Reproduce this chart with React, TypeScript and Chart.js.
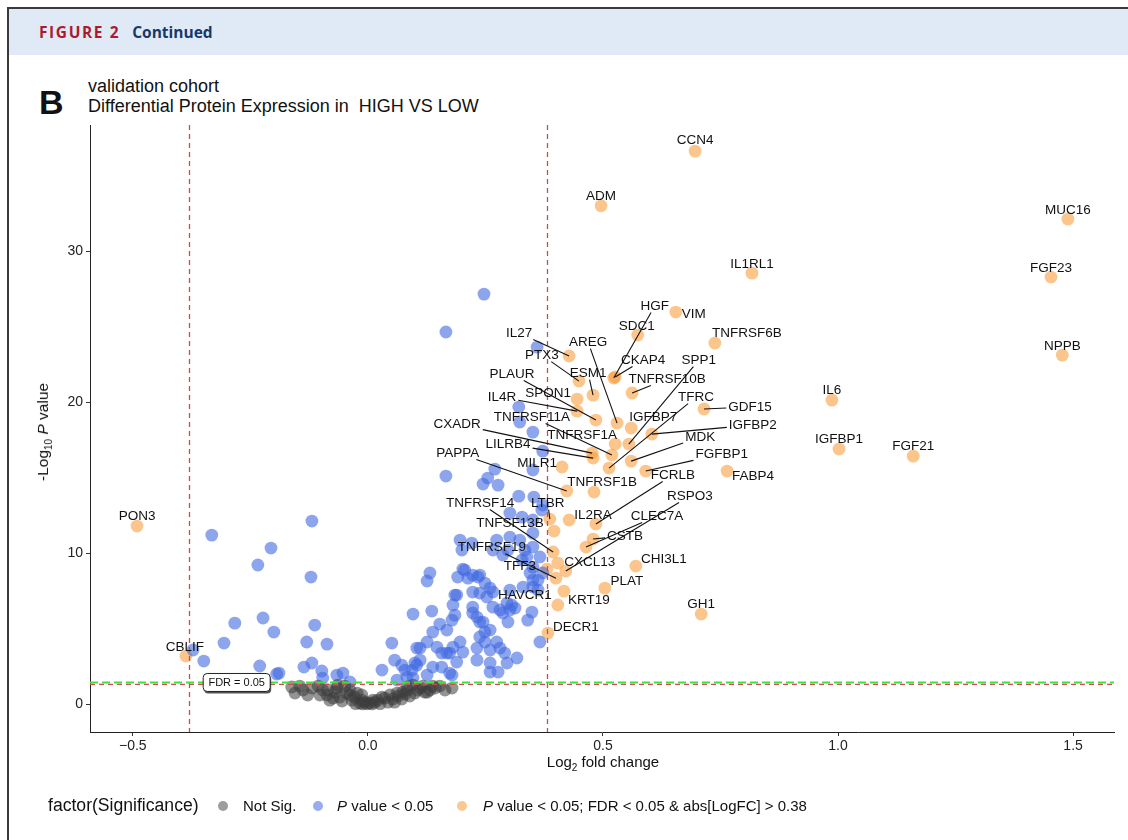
import React, { useEffect, useRef } from "react";
import { Chart, registerables } from "chart.js";

Chart.register(...registerables);

// ---------- data ----------
const xTickValues = [-0.5, 0, 0.5, 1.0, 1.5];
const yTickValues = [0, 10, 20, 30];
const logFcCutoff = 0.38;
const pValueLine = 1.3;
const fdrLine = 1.43;

// Not significant: [log2FC, -log10 P]
const notSig: [number, number][] = [
  [-0.162, 1.13], [-0.155, 0.73], [-0.145, 1.19], [-0.138, 0.93], [-0.128, 0.6], [-0.119, 1.06],
  [-0.106, 1.19], [-0.102, 0.6], [-0.087, 0.6], [-0.085, 0.93], [-0.081, 0.26], [-0.074, 0.4],
  [-0.066, 1.06], [-0.064, 1.26], [-0.06, 0.46], [-0.055, 0.2], [-0.049, 1.19], [-0.045, 0.73],
  [-0.038, 0.93], [-0.034, 0.26], [-0.028, 0.46], [-0.026, 0.03], [-0.023, 0.73], [-0.017, 0.07],
  [-0.013, 0.26], [-0.011, 0.01], [-0.006, 0.13], [-0.002, 0.02], [0.004, 0.07], [0.009, 0.01],
  [0.011, 0.26], [0.015, 0.13], [0.021, 0.26], [0.026, 0.03], [0.03, 0.46], [0.036, 0.4],
  [0.043, 0.13], [0.047, 0.6], [0.053, 0.33], [0.057, 0.13], [0.062, 0.73], [0.064, 0.53],
  [0.072, 0.33], [0.074, 0.79], [0.079, 0.66], [0.083, 1.13], [0.085, 0.93], [0.089, 0.53],
  [0.096, 1.26], [0.1, 0.73], [0.106, 0.93], [0.111, 1.06], [0.117, 1.19], [0.121, 0.79],
  [0.126, 0.79], [0.132, 0.93], [0.138, 1.19], [0.143, 1.06], [0.153, 1.19], [0.164, 0.93],
  [0.179, 1.06], [-0.038, 0.6], [-0.013, 0.6], [-0.07, 0.79], [-0.096, 0.93],
];

// P value < 0.05 only: [log2FC, -log10 P]
const pValueOnly: [number, number][] = [
  [-0.332, 11.19], [-0.119, 12.12], [-0.206, 10.33], [-0.234, 9.21], [-0.121, 8.41], [0.096, 5.96],
  [-0.283, 5.36], [-0.223, 5.7], [-0.113, 5.23], [-0.2, 4.77], [-0.306, 4.04], [-0.13, 4.11],
  [-0.087, 3.97], [0.051, 4.04], [-0.372, 3.58], [-0.349, 2.85], [-0.23, 2.52], [-0.136, 2.45],
  [-0.119, 2.72], [-0.189, 2.05], [-0.194, 1.99], [-0.098, 2.19], [-0.096, 1.72], [-0.066, 1.92],
  [-0.053, 2.05], [-0.038, 1.46], [0.03, 2.25], [0.057, 2.91], [0.072, 2.58], [0.079, 2.25],
  [0.1, 2.72], [0.104, 3.71], [0.062, 1.59], [0.096, 1.72],
  [0.083, 1.79], [0.136, 6.16], [0.132, 8.68], [0.126, 8.15], [0.111, 3.71], [0.126, 4.11],
  [0.138, 4.77], [0.153, 5.3], [0.168, 4.9], [0.179, 5.56], [0.185, 5.89], [0.181, 6.56],
  [0.189, 7.22], [0.202, 8.94], [0.191, 8.41], [0.213, 8.34], [0.223, 8.54], [0.238, 8.54],
  [0.249, 8.01], [0.26, 7.68], [0.253, 7.09], [0.238, 7.35], [0.223, 6.42], [0.232, 5.76],
  [0.245, 5.43], [0.26, 4.9], [0.238, 4.44], [0.249, 4.11], [0.274, 4.11], [0.26, 3.58],
  [0.281, 3.71], [0.291, 3.38], [0.317, 3.05], [0.296, 2.72], [0.26, 2.72], [0.277, 2.12],
  [0.26, 2.12], [0.232, 2.91], [0.232, 3.71], [0.196, 4.11], [0.181, 3.77], [0.202, 3.44],
  [0.189, 2.78], [0.174, 2.05], [0.157, 2.45], [0.138, 2.45], [0.126, 1.92], [0.104, 2.58],
  [0.094, 2.25], [0.111, 2.91], [0.157, 3.38], [0.147, 3.77], [0.168, 3.38], [0.179, 1.92],
  [0.296, 6.69], [0.302, 6.23], [0.298, 5.43], [0.34, 5.56], [0.349, 6.09], [0.313, 6.36],
  [0.281, 6.23], [0.266, 6.42], [0.366, 4.11], [0.351, 7.75], [0.362, 8.21], [0.345, 8.68],
  [0.247, 27.15], [0.166, 24.64], [0.36, 23.64], [0.321, 19.67], [0.323, 18.68], [0.351, 18.01],
  [0.372, 16.75], [0.166, 15.1], [0.27, 15.56], [0.255, 14.97], [0.245, 14.57], [0.277, 14.5],
  [0.351, 15.5], [0.321, 13.77], [0.353, 13.71], [0.37, 12.85], [0.302, 12.65], [0.328, 12.38],
  [0.351, 12.19], [0.196, 10.86], [0.221, 10.66], [0.274, 10.86], [0.302, 11.06], [0.323, 10.86],
  [0.351, 11.32], [0.351, 10.4], [0.366, 9.74], [0.338, 9.74], [0.287, 9.87], [0.266, 10.2],
  [0.185, 7.22], [0.206, 8.87], [0.266, 7.42], [0.302, 7.55], [0.33, 7.75], [0.351, 8.21],
  [0.362, 7.55], [0.372, 8.68],
  [0.372, 13.18], [0.2, 10.2], [0.298, 10.2], [0.334, 10.2], [0.328, 9.54], [0.351, 9.07],
  [0.234, 8.41], [0.223, 7.42], [0.306, 6.56], [0.287, 6.03], [0.223, 6.03], [0.238, 5.43],
  [0.249, 4.77], [0.174, 3.38],
];

// P value < 0.05; FDR < 0.05 & abs[LogFC] > 0.38
const fdrGenes: string[] = [
  "CCN4", "ADM", "MUC16", "IL1RL1", "FGF23", "VIM", "SDC1", "TNFRSF6B", "NPPB", "IL27",
  "HGF", "CKAP4", "PTX3", "TNFRSF10B", "ESM1", "SPON1", "IL6", "GDF15", "IL4R", "PLAUR",
  "AREG", "IGFBP7", "IGFBP2", "TNFRSF1A", "SPP1", "IGFBP1", "CXADR", "TNFRSF11A", "FGF21", "LILRB4",
  "MDK", "MILR1", "TFRC", "FGFBP1", "FABP4", "PAPPA", "TNFRSF1B", "LTBR", "IL2RA", "FCRLB",
  "PON3", "TNFSF13B", "CSTB", "CLEC7A", "TNFRSF14", "CXCL13", "CHI3L1", "TFF3", "RSPO3", "TNFRSF19",
  "PLAT", "HAVCR1", "KRT19", "GH1", "DECR1", "CBLIF",
];
const fdrLogFC: number[] = [
  0.696, 0.496, 1.489, 0.817, 1.453, 0.655, 0.574, 0.738, 1.477, 0.428,
  0.523, 0.526, 0.449, 0.562, 0.479, 0.445, 0.987, 0.715, 0.445, 0.485,
  0.53, 0.56, 0.604, 0.526, 0.555, 1.002, 0.477, 0.519, 1.16, 0.479,
  0.56, 0.413, 0.513, 0.591, 0.764, 0.423, 0.481, 0.387, 0.428, 0.485,
  -0.491, 0.396, 0.479, 0.464, 0.394, 0.404, 0.57, 0.381, 0.421, 0.4,
  0.504, 0.417, 0.404, 0.709, 0.383, -0.387,
];
const fdrLogP: number[] = [
  36.62, 33.0, 32.12, 28.54, 28.28, 25.96, 24.44, 23.91, 23.11, 23.05,
  21.59, 21.66, 21.39, 20.6, 20.46, 20.2, 20.13, 19.54, 19.4, 18.81,
  18.61, 18.28, 17.88, 17.22, 17.22, 16.89, 16.62, 16.49, 16.42, 16.29,
  16.09, 15.7, 15.63, 15.43, 15.43, 14.11, 14.04, 12.25, 12.19, 11.92,
  11.79, 11.46, 10.93, 10.4, 10.07, 9.34, 9.14, 8.94, 8.81, 8.34,
  7.68, 7.48, 6.56, 5.96, 4.7, 3.18,
];

// ---------- label layout (pixel nudges from point: dx, dy, draw segment) ----------
const labelNudge: Record<string, [number, number, number]> = {
  CCN4: [0, -11, 0], ADM: [0, -10, 0], MUC16: [0, -9, 0], IL1RL1: [0, -9, 0], FGF23: [0, -9, 0],
  VIM: [18, 2, 0], SDC1: [-1, -9, 0], TNFRSF6B: [32, -10, 0], NPPB: [0, -9, 0], IL27: [-50, -23, 1],
  HGF: [41, -72, 1], CKAP4: [28, -17, 1], PTX3: [-37, -26, 1], TNFRSF10B: [35, -14, 1], ESM1: [-5, -22, 1],
  SPON1: [-29, -6, 0], IL6: [0, -10, 0], GDF15: [46, -2, 1], IL4R: [-75, -14, 1], PLAUR: [-84, -46, 1],
  AREG: [-29, -81, 1], IGFBP7: [22, -11, 0], IGFBP2: [101, -9, 1], TNFRSF1A: [-33, -9, 0], SPP1: [70, -84, 1],
  IGFBP1: [0, -10, 0], CXADR: [-135, -29, 1], TNFRSF11A: [-80, -38, 1], FGF21: [0, -10, 0], LILRB4: [-85, -14, 1],
  MDK: [69, -24, 1], MILR1: [-25, -4, 0], TFRC: [87, -71, 1], FGFBP1: [76, -17, 1], FABP4: [26, 5, 0],
  PAPPA: [-109, -38, 1], TNFRSF1B: [8, -10, 0], LTBR: [-2, -16, 1], IL2RA: [24, -5, 0], FCRLB: [77, -49, 1],
  PON3: [0, -10, 0], TNFSF13B: [-44, -8, 0], CSTB: [32, -3, 1], CLEC7A: [71, -31, 1], TNFRSF14: [-73, -49, 1],
  CXCL13: [32, -1, 0], CHI3L1: [28, -7, 0], TFF3: [-27, -3, 0], RSPO3: [124, -75, 1], TNFRSF19: [-64, -31, 1],
  PLAT: [22, -7, 0], HAVCR1: [-39, 4, 0], KRT19: [31, -5, 0], GH1: [0, -10, 0], DECR1: [28, -6, 0],
  CBLIF: [-1, -9, 0],
};

const FONT = '"Liberation Sans", Arial, Helvetica, sans-serif';
const GREY = "rgba(60,60,60,0.55)";
const BLUE = "rgba(65,105,225,0.6)";
const ORANGE = "rgba(250,155,55,0.58)";
const POINT_R = 6.4;

const overlayPlugin = {
  id: "volcanoOverlay",
  afterDatasetsDraw(chart: any) {
    const { ctx, chartArea, scales } = chart;
    const xs = scales.x;
    const ys = scales.y;
    ctx.save();
    ctx.beginPath();
    ctx.rect(chartArea.left, chartArea.top, chartArea.right - chartArea.left, chartArea.bottom - chartArea.top);
    ctx.clip();
    // vertical cut-offs
    ctx.strokeStyle = "#c94f4f";
    ctx.lineWidth = 1.3;
    ctx.setLineDash([5, 4]);
    [-logFcCutoff, logFcCutoff].forEach((v) => {
      const px = Math.round(xs.getPixelForValue(v)) + 0.5;
      ctx.beginPath();
      ctx.moveTo(px, chartArea.top);
      ctx.lineTo(px, chartArea.bottom);
      ctx.stroke();
    });
    // horizontal p line
    let py = ys.getPixelForValue(pValueLine);
    ctx.beginPath();
    ctx.moveTo(chartArea.left, py);
    ctx.lineTo(chartArea.right, py);
    ctx.stroke();
    // fdr line
    ctx.strokeStyle = "#3ee23e";
    ctx.lineWidth = 2;
    ctx.setLineDash([8, 4]);
    py = ys.getPixelForValue(fdrLine);
    ctx.beginPath();
    ctx.moveTo(chartArea.left, py);
    ctx.lineTo(chartArea.right, py);
    ctx.stroke();
    ctx.restore();

    // gene labels
    ctx.save();
    ctx.font = `13.5px ${FONT}`;
    ctx.textAlign = "center";
    ctx.textBaseline = "middle";
    ctx.fillStyle = "#111";
    ctx.strokeStyle = "#111";
    ctx.lineWidth = 1.1;
    ctx.setLineDash([]);
    fdrGenes.forEach((name, i) => {
      const nudge = labelNudge[name] || [0, -10, 0];
      const px = xs.getPixelForValue(fdrLogFC[i]);
      const pyy = ys.getPixelForValue(fdrLogP[i]);
      const tx = px + nudge[0];
      const ty = pyy + nudge[1];
      if (nudge[2]) {
        const w = ctx.measureText(name).width / 2 + 2;
        const h = 6.5;
        const dx = px - tx;
        const dy = pyy - ty;
        const t = Math.min(dx !== 0 ? w / Math.abs(dx) : 1e9, dy !== 0 ? h / Math.abs(dy) : 1e9);
        if (t < 1) {
          ctx.beginPath();
          ctx.moveTo(tx + dx * t, ty + dy * t);
          ctx.lineTo(px, pyy);
          ctx.stroke();
        }
      }
      ctx.fillText(name, tx, ty + 0.5);
    });
    ctx.restore();

    // FDR = 0.05 box
    ctx.save();
    const bx = xs.getPixelForValue(-0.279);
    const by = ys.getPixelForValue(fdrLine);
    const bw = 67;
    const bh = 18;
    const rr = (x0: number, y0: number, w0: number, h0: number, r: number) => {
      ctx.beginPath();
      ctx.moveTo(x0 + r, y0);
      ctx.lineTo(x0 + w0 - r, y0);
      ctx.quadraticCurveTo(x0 + w0, y0, x0 + w0, y0 + r);
      ctx.lineTo(x0 + w0, y0 + h0 - r);
      ctx.quadraticCurveTo(x0 + w0, y0 + h0, x0 + w0 - r, y0 + h0);
      ctx.lineTo(x0 + r, y0 + h0);
      ctx.quadraticCurveTo(x0, y0 + h0, x0, y0 + h0 - r);
      ctx.lineTo(x0, y0 + r);
      ctx.quadraticCurveTo(x0, y0, x0 + r, y0);
      ctx.closePath();
    };
    ctx.fillStyle = "#555";
    rr(bx - bw / 2 + 1, by - bh / 2 + 2, bw, bh, 4);
    ctx.fill();
    ctx.fillStyle = "#fff";
    ctx.strokeStyle = "#222";
    ctx.lineWidth = 1;
    rr(bx - bw / 2, by - bh / 2, bw, bh, 4);
    ctx.fill();
    ctx.stroke();
    ctx.fillStyle = "#111";
    ctx.font = `11px ${FONT}`;
    ctx.textAlign = "center";
    ctx.textBaseline = "middle";
    ctx.fillText("FDR = 0.05", bx, by + 0.5);
    ctx.restore();
  },
};

export default function App() {
  const ref = useRef<HTMLCanvasElement>(null);

  useEffect(() => {
    if (!ref.current) return;
    const chart = new Chart(ref.current, {
      type: "scatter",
      data: {
        datasets: [
          {
            label: "Not Sig.",
            data: notSig.map(([x, y]) => ({ x, y })),
            backgroundColor: GREY,
            borderWidth: 0,
            pointRadius: POINT_R,
          },
          {
            label: "P value < 0.05",
            data: pValueOnly.map(([x, y]) => ({ x, y })),
            backgroundColor: BLUE,
            borderWidth: 0,
            pointRadius: POINT_R,
          },
          {
            label: "P value < 0.05; FDR < 0.05 & abs[LogFC] > 0.38",
            data: fdrLogFC.map((x, i) => ({ x, y: fdrLogP[i] })),
            backgroundColor: ORANGE,
            borderWidth: 0,
            pointRadius: POINT_R,
          },
        ],
      },
      options: {
        responsive: false,
        animation: false,
        devicePixelRatio: 1,
        layout: { padding: { left: 0, right: 14, top: 125, bottom: 0 } },
        plugins: { legend: { display: false }, tooltip: { enabled: false } },
        scales: {
          x: {
            type: "linear",
            min: -0.591,
            max: 1.587,
            afterFit: (s: any) => { s.height = 108; },
            afterBuildTicks: (s: any) => { s.ticks = xTickValues.map((v) => ({ value: v })); },
            ticks: {
              color: "#222",
              font: { family: FONT, size: 14 },
              padding: 2,
              maxRotation: 0,
              callback: (v: any) => {
                const n = Number(v);
                return n < 0 ? "\u2212" + Math.abs(n).toFixed(1) : n.toFixed(1);
              },
            },
            grid: { display: true, drawOnChartArea: false, drawTicks: true, tickLength: 4, color: "#333" },
            border: { display: true, color: "#222", width: 1 },
          },
          y: {
            type: "linear",
            min: -1.85,
            max: 38.35,
            afterFit: (s: any) => { s.width = 90; },
            afterBuildTicks: (s: any) => { s.ticks = yTickValues.map((v) => ({ value: v })); },
            ticks: {
              color: "#222",
              font: { family: FONT, size: 14 },
              padding: 3,
              callback: (v: any) => String(v),
            },
            grid: { display: true, drawOnChartArea: false, drawTicks: true, tickLength: 4, color: "#333" },
            border: { display: true, color: "#222", width: 1 },
          },
        },
      },
      plugins: [overlayPlugin],
    } as any);
    return () => chart.destroy();
  }, []);

  const dot = (left: number, color: string) => (
    <div
      style={{
        position: "absolute",
        left: left - 5,
        top: 806 - 5,
        width: 10,
        height: 10,
        borderRadius: "50%",
        background: color,
      }}
    />
  );

  return (
    <div
      style={{
        position: "fixed",
        left: 0,
        top: 0,
        width: 1128,
        height: 840,
        background: "#fff",
        overflow: "hidden",
        fontFamily: FONT,
        color: "#111",
      }}
    >
      {/* frame + header band */}
      <div style={{ position: "absolute", left: 9, top: 9, width: 1119, height: 46, background: "#dfeaf6" }} />
      <div style={{ position: "absolute", left: 7, top: 7, width: 1121, height: 2, background: "#3a3a3a" }} />
      <div style={{ position: "absolute", left: 7, top: 7, width: 2, height: 833, background: "#3a3a3a" }} />
      <div
        style={{
          position: "absolute",
          left: 39,
          top: 21,
          fontFamily: '"Open Sans", "Noto Sans", sans-serif',
          fontWeight: 700,
          lineHeight: "22px",
          whiteSpace: "pre",
        }}
      >
        <span style={{ color: "#ad1a2e", letterSpacing: 1.6, fontSize: 15.5 }}>FIGURE 2</span>
        <span style={{ color: "#17386b", fontSize: 15.5, marginLeft: 12 }}>Continued</span>
      </div>

      {/* panel letter and title */}
      <div style={{ position: "absolute", left: 39, top: 82, fontSize: 34, fontWeight: 700, lineHeight: "40px" }}>B</div>
      <div style={{ position: "absolute", left: 88, top: 77, fontSize: 18, lineHeight: "19.5px", whiteSpace: "pre" }}>
        {"validation cohort\nDifferential Protein Expression in  HIGH VS LOW"}
      </div>

      <canvas ref={ref} width={1128} height={840} style={{ position: "absolute", left: 0, top: 0 }} />

      {/* axis titles */}
      <div
        style={{
          position: "absolute",
          left: 44,
          top: 432,
          transform: "translate(-50%, -50%) rotate(-90deg)",
          fontSize: 15.5,
          whiteSpace: "pre",
        }}
      >
        -Log<sub style={{ fontSize: 10 }}>10</sub> <i>P</i> value
      </div>
      <div
        style={{
          position: "absolute",
          left: 603,
          top: 763,
          transform: "translate(-50%, -50%)",
          fontSize: 15,
          whiteSpace: "pre",
        }}
      >
        Log<sub style={{ fontSize: 10 }}>2</sub> fold change
      </div>

      {/* legend */}
      <div style={{ position: "absolute", left: 48, top: 795, fontSize: 17.6, lineHeight: "21px", whiteSpace: "pre" }}>
        factor(Significance)
      </div>
      {dot(223, "rgba(60,60,60,0.5)")}
      <div style={{ position: "absolute", left: 243, top: 796, fontSize: 15, lineHeight: "19px", whiteSpace: "pre" }}>
        Not Sig.
      </div>
      {dot(318, "rgba(65,105,225,0.55)")}
      <div style={{ position: "absolute", left: 337, top: 796, fontSize: 15, lineHeight: "19px", whiteSpace: "pre" }}>
        <i>P</i> value &lt; 0.05
      </div>
      {dot(462, "rgba(250,155,55,0.55)")}
      <div style={{ position: "absolute", left: 483, top: 796, fontSize: 15, lineHeight: "19px", whiteSpace: "pre" }}>
        <i>P</i> value &lt; 0.05; FDR &lt; 0.05 &amp; abs[LogFC] &gt; 0.38
      </div>
    </div>
  );
}
